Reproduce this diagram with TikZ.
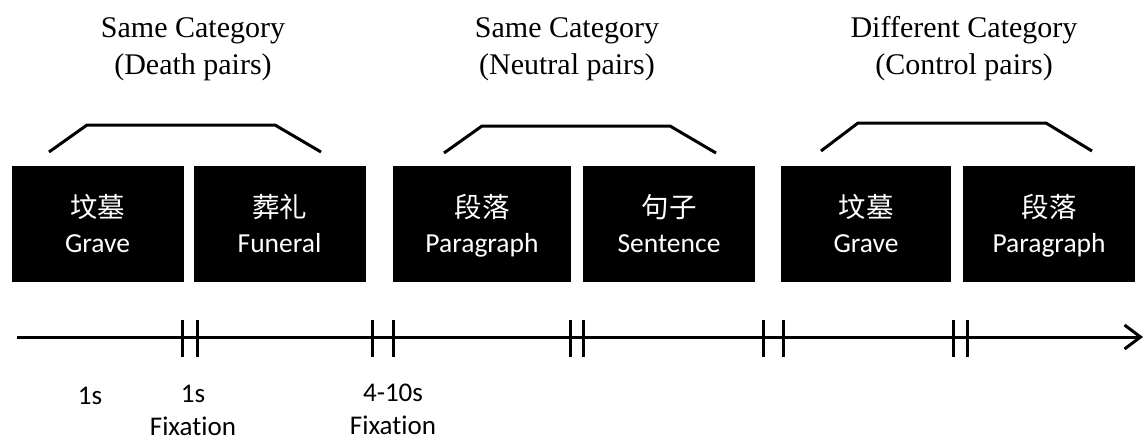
\documentclass[tikz,border=0pt]{standalone}
\usepackage{fontspec}
\setmainfont{Liberation Serif}
\newfontfamily\cjk{Noto Sans CJK SC}
\newfontfamily\calibri{Carlito}[Ligatures=NoCommon]
\usetikzlibrary{arrows.meta, positioning}

\newcommand{\stimtext}[2]{\rule{0pt}{28pt}{\cjk #1}\\#2\rule[-7pt]{0pt}{7pt}}
\newcommand{\cattext}[2]{\rule{0pt}{22pt}#1\\#2\rule[-8pt]{0pt}{8pt}}

\tikzset{
	stim/.style={rectangle, fill=black, text=white, minimum width=172pt, minimum height=116pt,
		inner sep=0pt, align=center, font=\calibri\fontsize{27.5}{35}\selectfont},
	cat/.style={align=center, inner sep=0pt, font=\fontsize{30}{37}\selectfont},
	dur/.style={align=center, inner sep=0pt, font=\calibri\fontsize{27}{33}\selectfont},
	bracket/.style={line width=3pt},
	tick/.style={line width=3pt},
	timeline/.style={line width=3pt, -{Straight Barb[length=16pt, width=24pt, line width=3pt]}}
}

\begin{document}
\begin{tikzpicture}[x=1pt, y=-1pt]
			\useasboundingbox (0,0) rectangle (1146,440);
			% category titles
			\node (cat1)[cat] at (193, 48.5) {\cattext{Same Category}{(Death pairs)}};
			\node (cat2)[cat] at (567, 48.5) {\cattext{Same Category}{(Neutral pairs)}};
			\node (cat3)[cat] at (964, 48.5) {\cattext{Different Category}{(Control pairs)}};
			% brackets
			\draw[bracket] (49,152) -- (87,125) -- (275,125) -- (321,152);
			\draw[bracket] (444,153) -- (482,126) -- (670,126) -- (716,153);
			\draw[bracket] (821,151) -- (858,123) -- (1046,123) -- (1092,151);
			% word pairs
			\node (grave1)[stim] at (97.5, 224) {\stimtext{坟墓}{Grave}};
			\node (funeral)[stim] at (279.5, 224) {\stimtext{葬礼}{Funeral}};
			\node (para1)[stim, minimum width=178pt] at (482, 224) {\stimtext{段落}{Paragraph}};
			\node (sentence)[stim] at (669, 224) {\stimtext{句子}{Sentence}};
			\node (grave2)[stim, minimum width=170pt] at (866, 224) {\stimtext{坟墓}{Grave}};
			\node (para2)[stim] at (1049, 224) {\stimtext{段落}{Paragraph}};
			% time line
			\coordinate (tstart) at (17, 337);
			\coordinate (tend) at (1143, 337);
			\draw[timeline] (tstart) -- (tend);
			\draw[tick] (182,320) -- (182,357) (197,320) -- (197,357);
			\draw[tick] (372,320) -- (372,357) (393,320) -- (393,357);
			\draw[tick] (570,320) -- (570,357) (583,320) -- (583,357);
			\draw[tick] (763,320) -- (763,357) (783,320) -- (783,357);
			\draw[tick] (953,320) -- (953,357) (967,320) -- (967,357);
			% durations
			\node (d1)[dur, anchor=base] at (90, 404) {1s};
			\node (d2)[dur] at (193, 412) {\rule{0pt}{20pt}1s\\Fixation\rule[-6pt]{0pt}{6pt}};
			\node (d3)[dur] at (393, 411) {\rule{0pt}{20pt}4-10s\\Fixation\rule[-6pt]{0pt}{6pt}};
		\end{tikzpicture}
\end{document}
